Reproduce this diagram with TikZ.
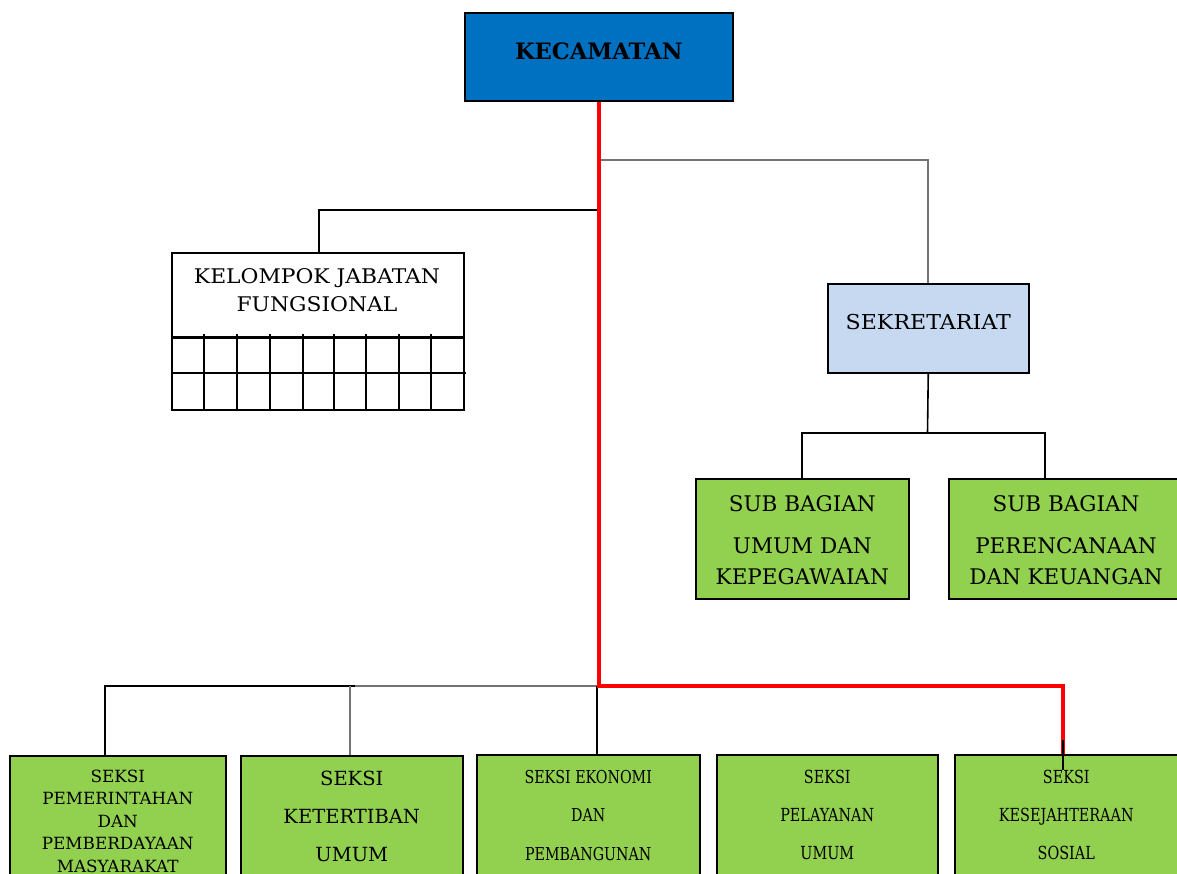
\documentclass[tikz,border=0pt]{standalone}
\usepackage{fontspec}
\setmainfont{DejaVu Serif}
\newfontfamily\narrowfont{DejaVu Serif}[FakeStretch=0.8]
\newfontfamily\widefont{DejaVu Serif}[FakeStretch=1.08]
\definecolor{kecblue}{RGB}{0,112,192}
\definecolor{sekblue}{RGB}{198,217,241}
\definecolor{boxgreen}{RGB}{146,208,80}
\definecolor{linegray}{RGB}{115,115,115}
\definecolor{redline}{RGB}{255,0,0}
\tikzset{
  box/.style={rectangle, draw=black, line width=1.5pt, inner sep=0pt, anchor=north west},
  greenbox/.style={box, fill=boxgreen},
  txt/.style={align=center, inner sep=0pt, anchor=base, text=black},
  blackln/.style={draw=black, line width=1.6pt},
  grayln/.style={draw=linegray, line width=1.6pt},
  redln/.style={draw=redline, line width=4pt},
}
\begin{document}
\begin{tikzpicture}[x=1pt,y=-1pt]
\useasboundingbox (0,0) rectangle (1177,873);
\clip (0,0) rectangle (1177,873);
\fill[white] (0,0) rectangle (1177,873);

% boxes
\node[box, fill=kecblue, minimum width=268pt, minimum height=88pt] (kec) at (464,12) {};
\node[box, fill=white, minimum width=292pt, minimum height=84pt] (kjf) at (171,252) {};
\node[box, fill=sekblue, minimum width=201pt, minimum height=89pt] (sek) at (827,283) {};
\node[greenbox, minimum width=213pt, minimum height=120pt] (sbl) at (695,478) {};
\node[greenbox, minimum width=229pt, minimum height=120pt] (sbr) at (948,478) {};
\node[greenbox, minimum width=216pt, minimum height=140pt] (s1) at (9,755) {};
\node[greenbox, minimum width=222pt, minimum height=140pt] (s2) at (240,755) {};
\node[greenbox, minimum width=223pt, minimum height=140pt] (s3) at (476,754) {};
\node[greenbox, minimum width=221pt, minimum height=140pt] (s4) at (716,754) {};
\node[greenbox, minimum width=223pt, minimum height=140pt] (s5) at (954,754) {};

% KJF grid
\node[box, minimum width=292pt, minimum height=73pt] (kjfgrid) at (171,336) {};
\draw[line width=1.5pt] (171,373) -- (466,373);
\draw[line width=1.5pt] (171,338.5) -- (463,338.5);
\foreach \gx in {204,237,270,303,334,366,399,431}
  \draw[line width=1.5pt] (\gx,334) -- (\gx,411);

% texts (anchor = baseline of last line)
\node[txt, font=\fontsize{22.6}{26}\selectfont\bfseries] (kect) at (kec.center |- 0,59) {KECAMATAN};
\node[txt, font=\widefont\fontsize{20.2}{28}\selectfont] (kjft) at (317,311) {KELOMPOK JABATAN\\FUNGSIONAL};
\node[txt, font=\widefont\fontsize{20.5}{26}\selectfont] (sekt) at (sek.center |- 0,329) {SEKRETARIAT};
\node[txt, font=\fontsize{21.5}{31}\selectfont] (sblt) at (sbl.center |- 0,584) {SUB BAGIAN\\[11pt]UMUM DAN\\KEPEGAWAIAN};
\node[txt, font=\fontsize{21.5}{31}\selectfont] (sbrt) at (1066,584) {SUB BAGIAN\\[11pt]PERENCANAAN\\DAN KEUANGAN};
\node[txt, font=\fontsize{16.8}{22.4}\selectfont] (s1t) at (s1.center |- 0,872) {SEKSI\\PEMERINTAHAN\\DAN\\PEMBERDAYAAN\\MASYARAKAT};
\node[txt, font=\fontsize{19.5}{38}\selectfont] (s2t) at (s2.center |- 0,861) {SEKSI\\KETERTIBAN\\UMUM};
\node[txt, font=\narrowfont\fontsize{17.8}{38.5}\selectfont] (s3t) at (s3.center |- 0,860) {SEKSI EKONOMI\\DAN\\PEMBANGUNAN};
\node[txt, font=\narrowfont\fontsize{18}{38}\selectfont] (s4t) at (s4.center |- 0,859) {SEKSI\\PELAYANAN\\UMUM};
\node[txt, font=\narrowfont\fontsize{18}{38}\selectfont] (s5t) at (s5.center |- 0,859) {SEKSI\\KESEJAHTERAAN\\SOSIAL};

% junction coordinates
\coordinate (jsek) at (597,160);
\coordinate (jkjf) at (597,210);
\coordinate (jsub) at (927.5,433);
\coordinate (jbus) at (597,686);
\coordinate (jleft) at (105,686);
\coordinate (jred) at (1063,686);

% connectors
\draw[grayln] (jsek) -| (sek.north);
\draw[blackln] (jkjf) -| ([xshift=148pt]kjf.north west);
\draw[blackln] (sek.south) -- (jsub);
\draw[blackln] ([xshift=107pt]sbl.north west) |- (jsub) -| ([xshift=97pt]sbr.north west);
\draw[grayln] (jleft) -- (jbus);
\draw[blackln] ([xshift=96pt]s1.north west) |- ([xshift=115pt]s2.north west |- jleft);
\draw[grayln] (s2.north west |- jleft) ++(110pt,0) -- ([xshift=110pt]s2.north west);
\draw[blackln, line width=1.2pt] (jbus) -- ([xshift=121pt]s3.north west);
\draw[blackln] (812,687) -- (jred);
% red main line
\draw[redln, line join=miter] (kec.south) |- (jred) -- ([xshift=109pt]s5.north west);
\draw[blackln] (1063,740) -- (1063,770);
\end{tikzpicture}
\end{document}
